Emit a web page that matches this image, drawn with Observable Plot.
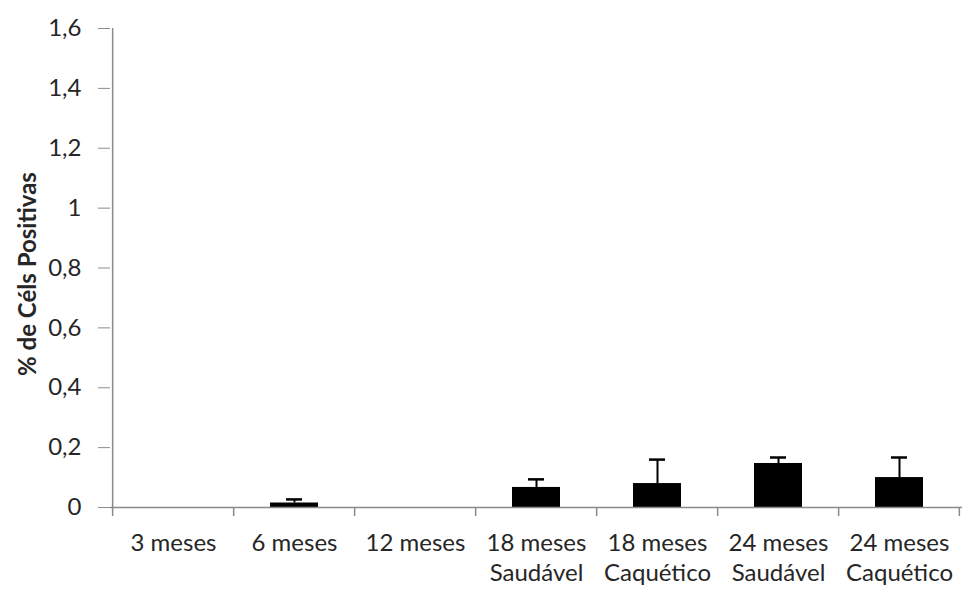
<!DOCTYPE html>
<html>
<head>
<meta charset="utf-8">
<script src="https://cdn.jsdelivr.net/npm/d3@7"></script>
<script src="https://cdn.jsdelivr.net/npm/@observablehq/plot@0.6"></script>
<style>
  html, body { margin: 0; padding: 0; background: #fff; }
</style>
</head>
<body>
<div id="chart"></div>
<script>
const categories = ["3 meses", "6 meses", "12 meses", "18 meses\nSaudável", "18 meses\nCaquético", "24 meses\nSaudável", "24 meses\nCaquético"];
const values = [0, 0.015, 0, 0.067, 0.08, 0.147, 0.10];
const errors = [0, 0.012, 0, 0.027, 0.08, 0.02, 0.067];
const yTicks = [0, 0.2, 0.4, 0.6, 0.8, 1, 1.2, 1.4, 1.6];
const yTitle = "% de Céls Positivas";

const data = categories.map((c, i) => ({cat: c, value: values[i], err: errors[i]}));
const withErr = data.filter(d => d.err > 0);

const W = 962, H = 591, mL = 110, mR = 0, mT = 28, mB = 84;
const step = (W - mL - mR) / categories.length;
const axisGray = "#8a8a8a";
const textColor = "#262626";
const fmt = d => (+d.toFixed(1)).toString().replace(".", ",");

const chart = Plot.plot({
  width: W,
  height: H,
  marginLeft: mL,
  marginRight: mR,
  marginTop: mT,
  marginBottom: mB,
  style: {fontFamily: "Lato, 'Open Sans', sans-serif", background: "#fff"},
  x: {domain: categories, paddingInner: 0.6, paddingOuter: 0.3},
  y: {domain: [0, 1.6]},
  marks: [
    Plot.barY(data, {x: "cat", y: "value", fill: "#000"}),
    Plot.ruleX(withErr, {x: "cat", y1: "value", y2: d => d.value + d.err, stroke: "#000", strokeWidth: 2}),
    Plot.tickY(withErr, {x: "cat", y: d => d.value + d.err, stroke: "#000", strokeWidth: 2.5, insetLeft: 16, insetRight: 16}),
    // x axis line
    Plot.ruleY([0], {stroke: axisGray, strokeWidth: 1.5}),
    // y axis line
    Plot.ruleX([categories[0]], {x: d => d, y1: 0, y2: 1.6, dx: -step / 2, stroke: axisGray, strokeWidth: 1.5}),
    // category boundary ticks below the x axis
    Plot.ruleX(categories, {x: d => d, y1: 0, y2: 0, insetBottom: -9, dx: -step / 2, stroke: axisGray, strokeWidth: 1.5}),
    Plot.ruleX([categories[categories.length - 1]], {x: d => d, y1: 0, y2: 0, insetBottom: -9, dx: step / 2 - 1, stroke: axisGray, strokeWidth: 1.5}),
    Plot.axisY({ticks: yTicks, tickFormat: fmt, tickSize: 12, tickPadding: 17, stroke: axisGray, fill: textColor, fontSize: 24, label: null}),
    Plot.axisX({tickSize: 0, tickPadding: 22, fontSize: 24, lineHeight: 1.25, fill: textColor, label: null}),
    Plot.text([yTitle], {frameAnchor: "left", textAnchor: "middle", rotate: -90, dx: -82, dy: 6, fontSize: 24, fontWeight: "bold", fill: textColor})
  ]
});
document.getElementById("chart").appendChild(chart);
</script>
</body>
</html>
